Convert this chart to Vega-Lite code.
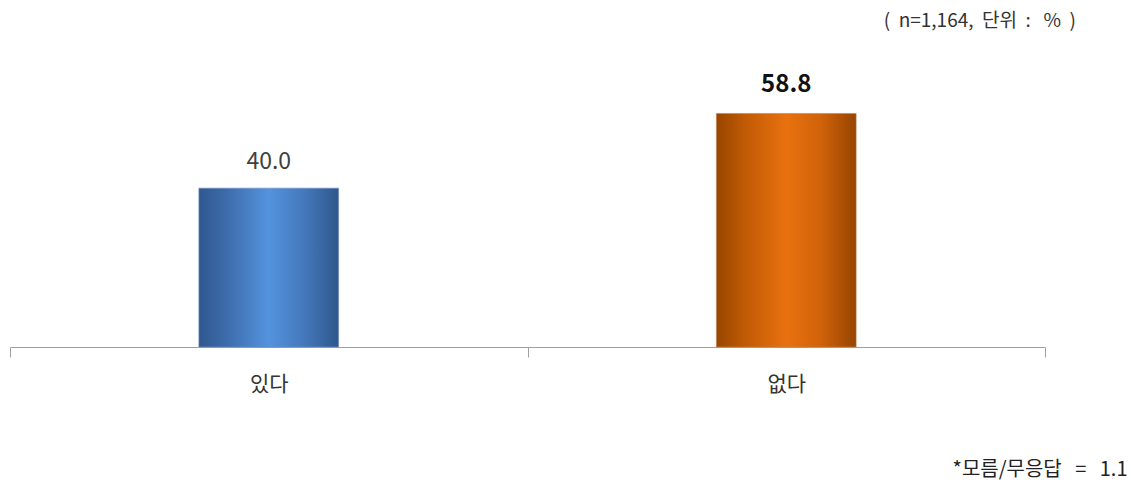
{
  "$schema": "https://vega.github.io/schema/vega-lite/v6.json",
  "autosize": "none",
  "width": 1035,
  "height": 280,
  "padding": {"left": 10, "top": 67, "right": 86, "bottom": 136},
  "background": "#ffffff",
  "config": {"view": {"stroke": null}, "font": "Noto Sans CJK KR"},
  "title": {
    "text": "(\u00a0\u00a0n=1,164,\u00a0\u00a0단위\u00a0\u00a0:\u00a0\u00a0\u00a0%\u00a0\u00a0)",
    "anchor": "end",
    "frame": "group",
    "orient": "top",
    "dx": 31,
    "offset": 36,
    "fontSize": 19,
    "fontWeight": "normal",
    "color": "#333333",
    "font": "Noto Sans CJK KR"
  },
  "data": {
    "values": [
      {"label": "있다", "value": 40.0},
      {"label": "없다", "value": 58.8}
    ]
  },
  "encoding": {
    "x": {
      "field": "label",
      "type": "nominal",
      "sort": ["있다", "없다"],
      "scale": {"paddingInner": 0, "paddingOuter": 0},
      "axis": {
        "title": "*모름/무응답\u00a0\u00a0\u00a0=\u00a0\u00a0\u00a01.1",
        "titleAnchor": "end",
        "titleAlign": "right",
        "titleX": 1117,
        "titleY": 122,
        "titleBaseline": "middle",
        "titleFontSize": 20,
        "titleFontWeight": "normal",
        "titleColor": "#222222",
        "titleFont": "Noto Sans CJK KR",
        "labelAngle": 0,
        "labelFontSize": 21,
        "labelColor": "#333333",
        "labelFont": "Noto Sans CJK KR",
        "labelPadding": 16,
        "tickBand": "extent",
        "tickSize": 10,
        "tickColor": "#a0a0a0",
        "domainColor": "#a0a0a0",
        "domainWidth": 1,
        "grid": false
      }
    },
    "y": {
      "field": "value",
      "type": "quantitative",
      "scale": {"domain": [0, 70.5], "nice": false},
      "axis": null
    }
  },
  "layer": [
    {
      "transform": [{"filter": "datum.label == '있다'"}],
      "mark": {
        "type": "bar",
        "width": {"band": 0.27},
        "stroke": "#6d8fbf",
        "strokeWidth": 0.6,
        "color": {
          "gradient": "linear",
          "x1": 0, "x2": 1, "y1": 0, "y2": 0,
          "stops": [
            {"offset": 0, "color": "#2f5890"},
            {"offset": 0.2, "color": "#3e6cab"},
            {"offset": 0.5, "color": "#5393de"},
            {"offset": 0.75, "color": "#4579bc"},
            {"offset": 1, "color": "#2e578c"}
          ]
        }
      }
    },
    {
      "transform": [{"filter": "datum.label == '없다'"}],
      "mark": {
        "type": "bar",
        "width": {"band": 0.27},
        "stroke": "#c08050",
        "strokeWidth": 0.6,
        "color": {
          "gradient": "linear",
          "x1": 0, "x2": 1, "y1": 0, "y2": 0,
          "stops": [
            {"offset": 0, "color": "#974600"},
            {"offset": 0.2, "color": "#c05a05"},
            {"offset": 0.5, "color": "#e8710f"},
            {"offset": 0.75, "color": "#d0620a"},
            {"offset": 1, "color": "#964500"}
          ]
        }
      }
    },
    {
      "transform": [{"filter": "datum.label == '있다'"}],
      "mark": {"type": "text", "baseline": "alphabetic", "dy": -19, "fontSize": 23, "color": "#404040", "font": "Noto Sans CJK KR"},
      "encoding": {"text": {"field": "value", "type": "quantitative", "format": ".1f"}}
    },
    {
      "transform": [{"filter": "datum.label == '없다'"}],
      "mark": {"type": "text", "baseline": "alphabetic", "dy": -21, "fontSize": 24, "fontWeight": "bold", "color": "#111111", "font": "Noto Sans CJK KR"},
      "encoding": {"text": {"field": "value", "type": "quantitative", "format": ".1f"}}
    }
  ]
}
